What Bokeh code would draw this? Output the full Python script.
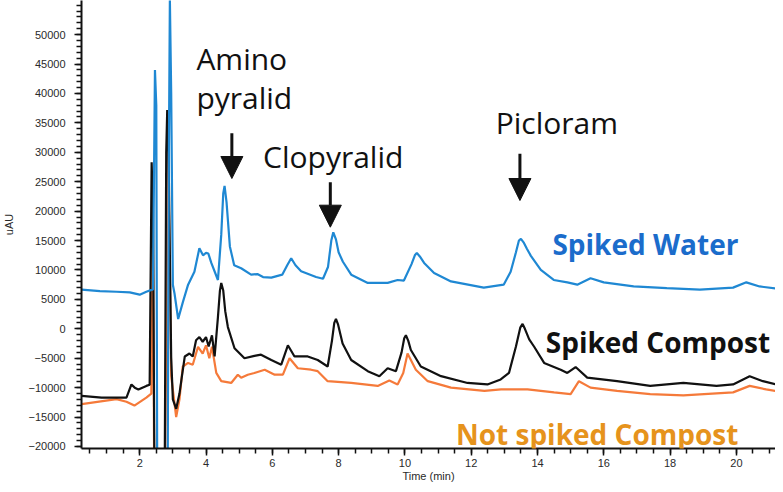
from bokeh.plotting import figure
from bokeh.models import Range1d, FixedTicker, Label, Arrow, NormalHead
from bokeh.embed import file_html
from bokeh.resources import INLINE

# ---- data (time in min, absorbance in uAU) ----
water_t = [0.25, 0.8, 1.3, 1.7, 2.0, 2.2, 2.4, 2.46, 2.5, 2.53, 2.84, 2.88, 2.91, 2.95,
           3.0, 3.05, 3.16, 3.3, 3.46, 3.65, 3.8, 3.91, 4.0, 4.07, 4.16, 4.36, 4.46,
           4.52, 4.56, 4.62, 4.72, 4.85, 5.06, 5.36, 5.55, 5.72, 5.97, 6.3, 6.45, 6.57,
           6.7, 6.87, 7.32, 7.53, 7.68, 7.78, 7.84, 7.92, 8.0, 8.13, 8.38, 8.88, 9.48,
           9.78, 9.97, 10.2, 10.3, 10.36, 10.45, 10.58, 10.88, 11.39, 12.38, 12.98, 13.19,
           13.35, 13.44, 13.5, 13.58, 13.68, 13.8, 14.1, 14.49, 14.9, 15.2, 15.6, 16.0,
           16.9, 17.9, 18.9, 19.9, 20.3, 20.7, 21.4]
water_v = [6670, 6400, 6300, 6200, 5800, 6300, 6700, 44000, 38000, -30000, -30000, 30000,
           56000, 40000, 7500, 6000, 1670, 4500, 7500, 9700, 13700, 12500, 12900, 12800,
           11200, 8300, 16000, 23000, 24300, 21500, 14000, 10800, 10300, 9200, 9300, 8800,
           8700, 9200, 10800, 12000, 10800, 9800, 8800, 8500, 10500, 15000, 16400, 15200,
           13000, 11400, 9200, 7800, 7800, 8300, 8200, 11000, 12500, 12900, 12300, 11200,
           9500, 8050, 7000, 7500, 9700, 13000, 15000, 15300, 14700, 13600, 12400, 10000,
           8300, 7900, 7500, 8600, 7900, 7200, 6900, 6670, 7000, 7900, 7200, 6700]

compost_t = [0.25, 0.85, 1.6, 1.68, 1.75, 1.85, 1.96, 2.2, 2.3, 2.36, 2.4, 2.45, 2.75,
             2.8, 2.83, 2.87, 2.95, 3.0, 3.1, 3.2, 3.26, 3.36, 3.5, 3.6, 3.7, 3.8, 3.9,
             4.0, 4.08, 4.18, 4.26, 4.36, 4.42, 4.46, 4.52, 4.58, 4.66, 4.86, 5.16, 5.46,
             5.66, 5.97, 6.27, 6.47, 6.67, 7.07, 7.37, 7.67, 7.8, 7.87, 7.92, 7.98, 8.12,
             8.38, 8.88, 9.23, 9.48, 9.73, 9.9, 9.98, 10.03, 10.1, 10.18, 10.48, 11.09,
             11.89, 12.49, 12.89, 13.14, 13.35, 13.48, 13.55, 13.62, 13.75, 13.9, 14.2,
             14.7, 14.9, 15.15, 15.5, 16.4, 17.4, 18.4, 19.4, 19.9, 20.4, 20.8, 21.4]
compost_v = [-11400, -11700, -11700, -10500, -9450, -10000, -10300, -9700, -9500, 28300,
             20000, -30000, -30000, 30000, 37200, 30000, -5000, -12000, -13600, -11000,
             -8600, -4700, -4200, -4700, -1950, -1400, -2200, -1400, -3000, -1100, -4700,
             2000, 6500, 7800, 6500, 3000, 300, -3300, -5000, -4600, -4400, -5300, -6100,
             -2800, -4700, -4700, -5300, -6400, -2000, 1000, 1670, 800, -2500, -5300, -7200,
             -8050, -6700, -7200, -4000, -1600, -1100, -2000, -3600, -6400, -8050, -9200,
             -9450, -8600, -7500, -3000, 200, 830, 0, -1800, -3050, -5800, -6950, -7500,
             -6500, -8300, -8900, -9700, -9200, -9700, -9450, -8050, -8900, -9700]

blank_t = [0.25, 1.3, 1.6, 1.84, 2.2, 2.35, 2.4, 2.44, 2.76, 2.85, 2.95, 3.1, 3.2, 3.3,
           3.46, 3.6, 3.76, 3.9, 4.0, 4.1, 4.18, 4.31, 4.46, 4.76, 4.96, 5.06, 5.26, 5.46,
           5.77, 6.07, 6.32, 6.52, 6.77, 7.17, 7.37, 7.67, 8.38, 9.18, 9.53, 9.78, 9.95,
           10.08, 10.33, 10.69, 11.39, 12.4, 12.9, 13.7, 14.5, 15.0, 15.25, 15.6, 16.4,
           17.4, 18.4, 19.9, 20.4, 20.9, 21.4]
blank_v = [-12800, -11950, -12400, -13050, -11700, -11000, 22000, -30000, -30000, 33000,
           -8000, -15000, -12000, -6400, -5800, -6100, -3050, -4200, -2800, -5000, -3050,
           -7500, -8900, -9200, -7800, -8300, -7800, -7500, -6950, -7800, -7800, -5000,
           -6700, -6950, -7200, -8900, -9200, -9700, -8800, -9450, -7500, -4200, -6950,
           -8900, -10000, -10550, -10300, -10300, -10800, -11100, -8900, -10000, -10550,
           -11100, -11300, -10800, -9700, -10300, -10800]

x_major_ticks = [2, 4, 6, 8, 10, 12, 14, 16, 18, 20]
y_major_ticks = [-20000, -15000, -10000, -5000, 0, 5000, 10000, 15000, 20000,
                 25000, 30000, 35000, 40000, 45000, 50000]

compounds = ["Amino", "pyralid", "Clopyralid", "Picloram"]
series_names = ["Spiked Water", "Spiked Compost", "Not spiked Compost"]

# ---- styles ----
BLUE_LINE = "#1f88d3"
BLUE_TEXT = "#1b6ccb"
BLACK = "#111111"
ORANGE_LINE = "#f57a3a"
ORANGE_TEXT = "#e6931c"

X0, X1 = 0.244, 21.18
Y0, Y1 = -20342, 55800

p = figure(width=775, height=484, output_backend="svg", toolbar_location=None,
           x_range=Range1d(X0, X1), y_range=Range1d(Y0, Y1),
           min_border_left=80, min_border_right=0, min_border_top=0,
           min_border_bottom=36)
p.outline_line_color = None
p.xgrid.visible = False
p.ygrid.visible = False

p.line(blank_t, blank_v, line_color=ORANGE_LINE, line_width=2.2)
p.line(compost_t, compost_v, line_color=BLACK, line_width=2.2)
p.line(water_t, water_v, line_color=BLUE_LINE, line_width=2.2)

minor_x = [0.5 + 0.5 * i for i in range(43)]
minor_y = list(range(-20000, 55001, 1000))
p.xaxis.ticker = FixedTicker(ticks=x_major_ticks, minor_ticks=minor_x)
p.yaxis.ticker = FixedTicker(ticks=y_major_ticks, minor_ticks=minor_y)

for ax in (p.xaxis[0], p.yaxis[0]):
    ax.axis_line_color = "#111111"
    ax.axis_line_width = 2
    ax.major_tick_line_color = "#111111"
    ax.minor_tick_line_color = "#111111"
    ax.major_tick_line_width = 1.5
    ax.minor_tick_line_width = 1.5
    ax.major_tick_in = 0
    ax.major_tick_out = 7
    ax.minor_tick_in = 0
    ax.minor_tick_out = 5
    ax.major_label_text_font = "Liberation Sans"
    ax.major_label_text_font_size = "11px"
    ax.major_label_text_color = "#2a2a2a"
    ax.axis_label_text_font = "Liberation Sans"
    ax.axis_label_text_font_size = "11px"
    ax.axis_label_text_font_style = "normal"
    ax.axis_label_text_color = "#2a2a2a"

p.xaxis.axis_label = "Time (min)"
p.xaxis.major_label_standoff = 3
p.xaxis.axis_label_standoff = 0
p.yaxis.axis_label = "uAU"
p.yaxis.major_label_standoff = 9
p.yaxis.axis_label_standoff = 10

# compound annotations
ann = dict(text_font="Open Sans", text_font_size="30px", text_color=BLACK,
           text_baseline="alphabetic")
p.add_layout(Label(x=3.71, y=45942, text=compounds[0], **ann))
p.add_layout(Label(x=3.71, y=39314, text=compounds[1], **ann))
p.add_layout(Label(x=5.72, y=29286, text=compounds[2], **ann))
p.add_layout(Label(x=12.74, y=35014, text=compounds[3], **ann))

for (xa, y0, y1) in [(4.78, 33246, 25547), (7.75, 24918, 17270), (13.47, 29745, 21808)]:
    p.add_layout(Arrow(x_start=xa, y_start=y0, x_end=xa, y_end=y1,
                       line_color=BLACK, line_width=3,
                       end=NormalHead(size=22, fill_color=BLACK, line_color=BLACK,
                                      line_width=1)))

# series labels
lab = dict(text_font="Open Sans", text_font_size="28px", text_font_style="bold",
           text_baseline="alphabetic")
p.add_layout(Label(x=14.45, y=14449, text=series_names[0], text_color=BLUE_TEXT, **lab))
p.add_layout(Label(x=14.25, y=-2276, text=series_names[1], text_color=BLACK, **lab))
p.add_layout(Label(x=11.54, y=-17800, text=series_names[2], text_color=ORANGE_TEXT, **lab))

open("out.html", "w").write(file_html(p, INLINE))
